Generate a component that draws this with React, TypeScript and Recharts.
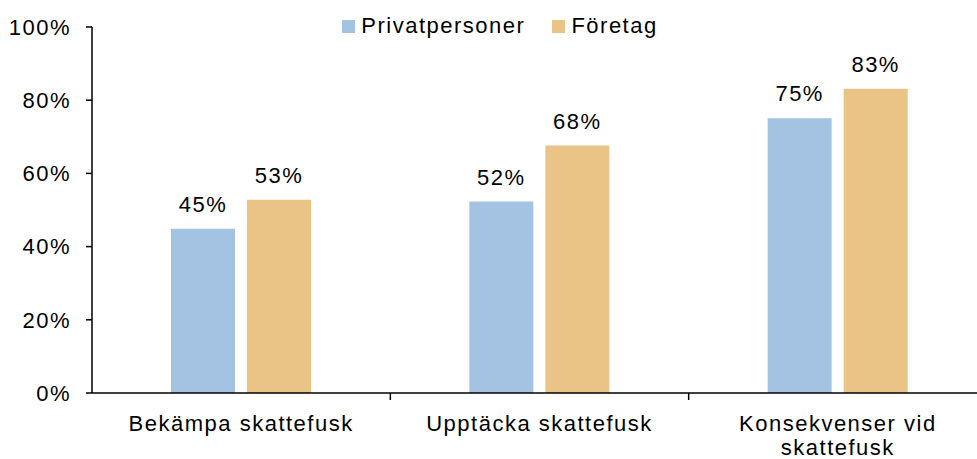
import { BarChart, Bar, XAxis, YAxis, LabelList } from 'recharts';

const categories = ['Bekämpa skattefusk', 'Upptäcka skattefusk', 'Konsekvenser vid\nskattefusk'];
const privatpersoner = [44.9, 52.3, 75.1];
const foretag = [52.8, 67.6, 83.1];
const yTicks = [0, 20, 40, 60, 80, 100];

const seriesNames = ['Privatpersoner', 'Företag'];
const colors = ['#A4C3E3', '#EAC386'];

const data = categories.map((name, i) => ({
  name,
  p: privatpersoner[i],
  f: foretag[i],
}));

const CHART_W = 1000;
const CHART_H = 459;
const margin = { top: 27, right: 13, left: 0, bottom: 0 };
const Y_WIDTH = 92;
const X_HEIGHT = 66;
const band = (CHART_W - margin.left - margin.right - Y_WIDTH) / categories.length;

function CategoryTick(props: any) {
  const { x, y, payload, index } = props;
  const lines = String(payload.value).split('\n');
  const isLast = index === categories.length - 1;
  return (
    <g>
      {!isLast && (
        <line x1={x + band / 2} x2={x + band / 2} y1={y} y2={y + 7} stroke="#000" strokeWidth={1.5} />
      )}
      <text x={x} y={y + 38} textAnchor="middle" fill="#000" fontSize={22}>
        {lines.map((l, i) => (
          <tspan key={i} x={x} dy={i === 0 ? 0 : 24}>
            {l}
          </tspan>
        ))}
      </text>
    </g>
  );
}

function ChartLegend() {
  return (
    <div
      style={{
        position: 'absolute',
        top: 13,
        left: 0,
        width: CHART_W,
        display: 'flex',
        justifyContent: 'center',
        alignItems: 'center',
        fontSize: 22,
        lineHeight: '26px',
        color: '#000',
      }}
    >
      {seriesNames.map((n, i) => (
        <div key={n} style={{ display: 'flex', alignItems: 'center', marginRight: i === 0 ? 27 : 0 }}>
          <span style={{ display: 'inline-block', width: 13, height: 13, background: colors[i], marginRight: 6 }} />
          <span>{n}</span>
        </div>
      ))}
    </div>
  );
}

export default function App() {
  return (
    <div
      style={{
        position: 'absolute',
        left: 0,
        top: 0,
        width: 977,
        height: 459,
        overflow: 'hidden',
        background: '#fff',
        fontFamily: '"Liberation Sans", Arial, sans-serif',
        letterSpacing: '1.5px',
      }}
    >
      <BarChart width={CHART_W} height={CHART_H} data={data} margin={margin} barSize={64} barGap={12}>
        <XAxis
          dataKey="name"
          height={X_HEIGHT}
          interval={0}
          tickLine={false}
          tickSize={0}
          tickMargin={0}
          axisLine={{ stroke: '#000', strokeWidth: 1.5 }}
          tick={<CategoryTick />}
        />
        <YAxis
          width={Y_WIDTH}
          domain={[0, 100]}
          ticks={yTicks}
          interval={0}
          tickFormatter={(v) => `${v}%`}
          tickSize={6}
          tickMargin={15}
          axisLine={{ stroke: '#000', strokeWidth: 1.5 }}
          tickLine={{ stroke: '#000', strokeWidth: 1.5 }}
          tick={{ fill: '#000', fontSize: 22 }}
        />
        <Bar dataKey="p" name={seriesNames[0]} fill={colors[0]} isAnimationActive={false}>
          <LabelList
            dataKey="p"
            position="top"
            offset={17}
            fill="#000"
            fontSize={22}
            formatter={(v: any) => `${Math.round(Number(v))}%`}
          />
        </Bar>
        <Bar dataKey="f" name={seriesNames[1]} fill={colors[1]} isAnimationActive={false}>
          <LabelList
            dataKey="f"
            position="top"
            offset={17}
            fill="#000"
            fontSize={22}
            formatter={(v: any) => `${Math.round(Number(v))}%`}
          />
        </Bar>
      </BarChart>
      <ChartLegend />
    </div>
  );
}
